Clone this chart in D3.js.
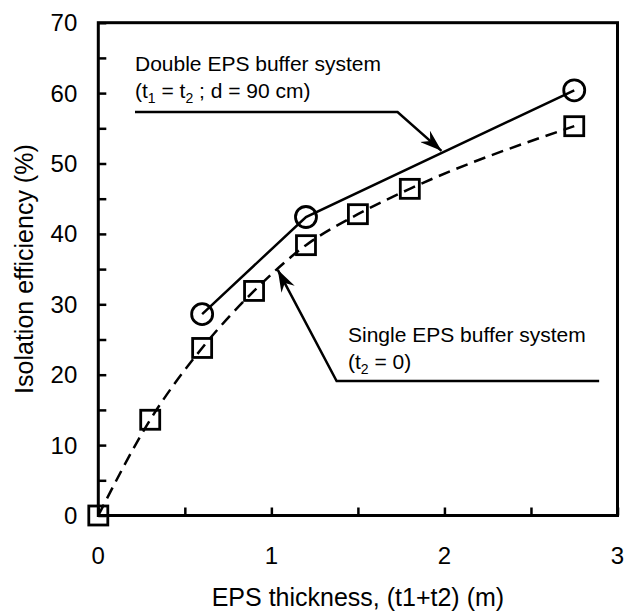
<!DOCTYPE html>
<html><head><meta charset="utf-8">
<script src="https://cdn.jsdelivr.net/npm/d3@7"></script>
<style>body{margin:0;background:#fff}svg{display:block}text{font-family:"Liberation Sans",Arial,sans-serif;fill:#000}</style>
</head><body>
<script>
// Data
const doubleX = [0.6, 1.2, 2.75];
const doubleY = [28.6, 42.4, 60.4];
const singleX = [0, 0.3, 0.6, 0.9, 1.2, 1.5, 1.8, 2.75];
const singleY = [0, 13.6, 23.8, 31.9, 38.4, 42.8, 46.4, 55.3];
const xTicks = [0, 1, 2, 3];
const yTicks = [0, 10, 20, 30, 40, 50, 60, 70];
const xTitle = "EPS thickness, (t1+t2) (m)";
const yTitle = "Isolation efficiency (%)";
// annotation anchor points (data units)
const arrow1 = [[0.212, 57.3], [1.729, 57.3], [1.983, 51.8]];
const arrow2 = [[2.894, 19.1], [1.377, 19.1], [1.037, 34.9]];

const W = 625, H = 614;
const m = {l: 98.3, r: 7.5, t: 22.7, b: 98.5};
const svg = d3.select("body").append("svg").attr("width", W).attr("height", H);
const x = d3.scaleLinear().domain([0, 3]).range([m.l, W - m.r]);
const y = d3.scaleLinear().domain([0, 70]).range([H - m.b, m.t]);

svg.append("defs").append("marker").attr("id", "arr")
  .attr("viewBox", "0 0 22 15").attr("refX", 22).attr("refY", 7.5)
  .attr("markerWidth", 22).attr("markerHeight", 15).attr("markerUnits", "userSpaceOnUse")
  .attr("orient", "auto")
  .append("path").attr("d", "M0,0 L22,7.5 L0,15 L7,7.5 Z").attr("fill", "#000");

// frame
svg.append("rect").attr("x", x(0)).attr("y", y(70)).attr("width", x(3) - x(0)).attr("height", y(0) - y(70))
  .attr("fill", "none").attr("stroke", "#000").attr("stroke-width", 3);

// ticks (inward, majors + minors)
const xAx = d3.axisTop(x).tickValues(d3.range(0, 3.01, 0.5)).tickSize(8).tickFormat("");
svg.append("g").attr("transform", `translate(0,${y(0)})`).call(xAx)
  .call(g => { g.select(".domain").remove(); g.selectAll("line").attr("stroke-width", 2.5); });
const yAx = d3.axisRight(y).tickValues(d3.range(0, 70.1, 5)).tickSize(8).tickFormat("");
svg.append("g").attr("transform", `translate(${x(0)},0)`).call(yAx)
  .call(g => { g.select(".domain").remove(); g.selectAll("line").attr("stroke-width", 2.5); });

// tick labels
svg.append("g").selectAll("text").data(xTicks).join("text")
  .attr("x", d => x(d)).attr("y", y(0) + 48).attr("text-anchor", "middle")
  .attr("font-size", 24).text(d => d);
svg.append("g").selectAll("text").data(yTicks).join("text")
  .attr("x", x(0) - 21).attr("y", d => y(d)).attr("dy", "0.35em").attr("text-anchor", "end")
  .attr("font-size", 24).text(d => d);

// axis titles
svg.append("text").attr("x", (x(0) + x(3)) / 2).attr("y", 606).attr("text-anchor", "middle")
  .attr("font-size", 25).text(xTitle);
svg.append("text").attr("transform", `translate(33,${(y(0) + y(70)) / 2}) rotate(-90)`)
  .attr("text-anchor", "middle").attr("font-size", 25).text(yTitle);

// lines
const single = singleX.map((v, i) => [v, singleY[i]]);
const dbl = doubleX.map((v, i) => [v, doubleY[i]]);
svg.append("path").datum(single)
  .attr("d", d3.line().x(d => x(d[0])).y(d => y(d[1])).curve(d3.curveMonotoneX))
  .attr("fill", "none").attr("stroke", "#000").attr("stroke-width", 2.5).attr("stroke-dasharray", "12,7");
svg.append("path").datum(dbl)
  .attr("d", d3.line().x(d => x(d[0])).y(d => y(d[1])))
  .attr("fill", "none").attr("stroke", "#000").attr("stroke-width", 2.5);

// markers
svg.append("g").selectAll("rect").data(single).join("rect")
  .attr("x", d => x(d[0]) - 9.5).attr("y", d => y(d[1]) - 9.5).attr("width", 19).attr("height", 19)
  .attr("fill", "none").attr("stroke", "#000").attr("stroke-width", 2.8);
svg.append("g").selectAll("circle").data(dbl).join("circle")
  .attr("cx", d => x(d[0])).attr("cy", d => y(d[1])).attr("r", 10.5)
  .attr("fill", "none").attr("stroke", "#000").attr("stroke-width", 2.8);

// annotations
const ln = d3.line().x(d => x(d[0])).y(d => y(d[1]));
svg.append("path").datum(arrow1).attr("d", ln).attr("fill", "none").attr("stroke", "#000")
  .attr("stroke-width", 2.5).attr("marker-end", "url(#arr)");
svg.append("path").datum(arrow2).attr("d", ln).attr("fill", "none").attr("stroke", "#000")
  .attr("stroke-width", 2.5).attr("marker-end", "url(#arr)");

const a1 = svg.append("g").attr("font-size", 21);
a1.append("text").attr("x", 135).attr("y", 71).text("Double EPS buffer system");
const t2 = a1.append("text").attr("x", 135).attr("y", 98);
t2.append("tspan").text("(t");
t2.append("tspan").attr("font-size", 14).attr("dy", 5).text("1");
t2.append("tspan").attr("dy", -5).text(" = t");
t2.append("tspan").attr("font-size", 14).attr("dy", 5).text("2");
t2.append("tspan").attr("dy", -5).text(" ; d = 90 cm)");

const a2 = svg.append("g").attr("font-size", 21);
a2.append("text").attr("x", 348).attr("y", 342).text("Single EPS buffer system");
const t3 = a2.append("text").attr("x", 348).attr("y", 369);
t3.append("tspan").text("(t");
t3.append("tspan").attr("font-size", 14).attr("dy", 5).text("2");
t3.append("tspan").attr("dy", -5).text(" = 0)");
</script>
</body></html>
